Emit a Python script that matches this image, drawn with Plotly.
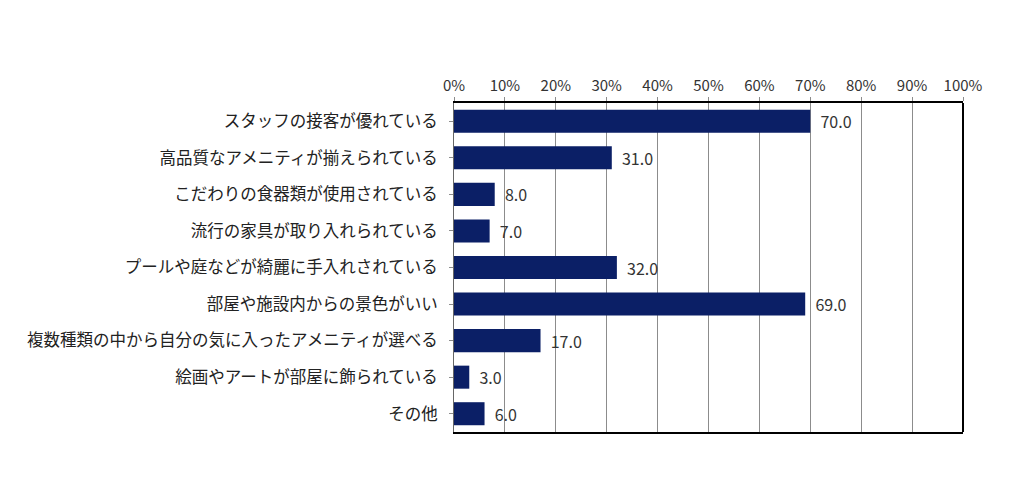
import plotly.graph_objects as go

# 項目と回答率(%)
categories = [
    'スタッフの接客が優れている',
    '高品質なアメニティが揃えられている',
    'こだわりの食器類が使用されている',
    '流行の家具が取り入れられている',
    'プールや庭などが綺麗に手入れされている',
    '部屋や施設内からの景色がいい',
    '複数種類の中から自分の気に入ったアメニティが選べる',
    '絵画やアートが部屋に飾られている',
    'その他',
]
values = [70.0, 31.0, 8.0, 7.0, 32.0, 69.0, 17.0, 3.0, 6.0]
tick_vals = list(range(0, 101, 10))
tick_text = [f'{v}%' for v in tick_vals]

font_jp = 'Noto Sans CJK JP'

fig = go.Figure()
fig.add_trace(go.Bar(
    y=categories,
    x=values,
    orientation='h',
    marker=dict(color='#0B1F66', line=dict(width=0)),
    width=0.63,
    text=[f'{v:.1f}' for v in values],
    texttemplate='  %{text}',
    textposition='outside',
    constraintext='none',
    textfont=dict(family=font_jp, size=16, color='#333333'),
    cliponaxis=False,
))

# 右側の枠線(黒)
fig.add_shape(type='line', xref='paper', yref='paper', x0=1, x1=1, y0=0, y1=1,
              line=dict(color='black', width=2))

fig.update_layout(
    width=1016,
    height=500,
    margin=dict(l=446, r=61, t=95, b=76),
    paper_bgcolor='white',
    plot_bgcolor='white',
    showlegend=False,
    font=dict(family=font_jp, size=15, color='#222222'),
    xaxis=dict(
        range=[0, 100],
        side='top',
        tickvals=tick_vals,
        ticktext=tick_text,
        showgrid=True,
        gridcolor='#8C8C8C',
        gridwidth=1,
        zeroline=False,
        showline=True,
        linecolor='black',
        linewidth=2,
        mirror=True,
        ticks='outside',
        ticklen=4,
        tickcolor='#8C8C8C',
        tickfont=dict(family=font_jp, size=15, color='#333333'),
        fixedrange=True,
    ),
    yaxis=dict(
        categoryorder='array',
        categoryarray=categories[::-1],
        showgrid=False,
        zeroline=False,
        showline=True,
        linecolor='#666666',
        linewidth=1,
        ticks='outside',
        ticklen=4,
        tickcolor='#8C8C8C',
        ticklabelstandoff=8,
        tickfont=dict(family=font_jp, size=16.5, color='#222222'),
        fixedrange=True,
    ),
)

fig.write_html('out.html')
